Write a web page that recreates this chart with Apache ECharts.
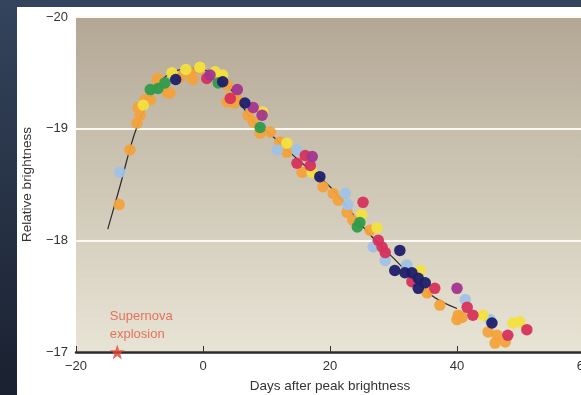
<!DOCTYPE html>
<html>
<head>
<meta charset="utf-8">
<script src="https://cdn.jsdelivr.net/npm/echarts@6/dist/echarts.min.js"></script>
<style>
  html, body { margin: 0; padding: 0; }
  #chart { width: 581px; height: 395px; }
</style>
</head>
<body>
<div id="chart"></div>
<script>
// Light curve of a type Ia supernova: observations (days, magnitude) per survey colour
const orange = [[-13.2,-18.32],[-11.5,-18.81],[-10.4,-19.05],[-10.2,-19.19],[-9.9,-19.12],[-9.1,-19.26],[-8.3,-19.26],[-7.2,-19.44],[-7.1,-19.45],[-5.7,-19.33],[-5.2,-19.32],[-3.6,-19.46],[-2.0,-19.50],[-0.5,-19.54],[-1.6,-19.44],[2.7,-19.46],[3.8,-19.39],[3.8,-19.24],[5.4,-19.26],[4.3,-19.28],[5.0,-19.23],[7.1,-19.12],[7.9,-19.06],[9.0,-18.96],[10.6,-18.97],[12.1,-18.88],[13.2,-18.79],[15.6,-18.61],[18.9,-18.48],[20.5,-18.42],[21.3,-18.36],[22.7,-18.25],[23.6,-18.18],[26.3,-18.09],[35.3,-17.53],[37.3,-17.42],[40.2,-17.33],[40.8,-17.31],[40.0,-17.29],[44.9,-17.18],[46.3,-17.15],[46.0,-17.08],[47.6,-17.09]];
const yellow = [[-9.4,-19.21],[-4.9,-19.50],[-2.7,-19.53],[-0.5,-19.55],[1.9,-19.51],[3.1,-19.48],[9.4,-19.15],[13.2,-18.87],[17.2,-18.61],[25.0,-18.23],[27.4,-18.11],[34.2,-17.73],[44.1,-17.33],[48.8,-17.26],[49.9,-17.27]];
const green = [[-8.3,-19.35],[-7.1,-19.36],[-6.0,-19.41],[2.4,-19.41],[9.0,-19.01],[24.7,-18.16],[24.3,-18.12]];
const navy = [[-4.3,-19.44],[3.1,-19.42],[6.6,-19.23],[18.4,-18.57],[31.0,-17.91],[30.2,-17.73],[31.8,-17.71],[32.9,-17.71],[33.9,-17.66],[35.0,-17.62],[33.9,-17.57],[45.5,-17.26]];
const crimson = [[0.6,-19.45],[4.3,-19.27],[16.1,-18.76],[14.8,-18.69],[16.9,-18.67],[25.2,-18.34],[27.6,-18.00],[28.2,-17.94],[28.7,-17.89],[32.9,-17.63],[36.5,-17.57],[41.6,-17.40],[42.5,-17.33],[48.0,-17.15],[51.0,-17.20]];
const magenta = [[1.1,-19.48],[5.4,-19.35],[7.9,-19.19],[9.3,-19.12],[17.2,-18.75],[40.0,-17.57]];
const lightBlue = [[-13.1,-18.61],[11.7,-18.81],[14.8,-18.81],[22.4,-18.42],[22.8,-18.32],[26.8,-17.94],[28.7,-17.82],[32.1,-17.78],[41.3,-17.47],[45.2,-17.29]];

// Fitted template curve
const curveX = [-15, -13, -11.5, -10.5, -9, -7, -5, -2, 0, 2, 4, 6, 8, 11, 15, 20, 26, 30, 35.7, 40];
const curveY = [-18.1, -18.5, -18.82, -19.0, -19.2, -19.4, -19.5, -19.54, -19.53, -19.48, -19.38, -19.22, -19.06, -18.93, -18.72, -18.48, -18.07, -17.84, -17.52, -17.39];

// Explosion marker
const explosion = [[-13.5, -17]];
const explosionLabel = 'Supernova\nexplosion';

// Axis ticks
const xTicks = [-20, 0, 20, 40, 60];
const yTicks = [-20, -19, -18, -17];

const seriesColors = {
  orange: '#f3a23c', yellow: '#f2e13f', green: '#2f9b4b', navy: '#1d1f6a',
  crimson: '#d6325c', magenta: '#a3358e', lightBlue: '#a0c2e6'
};

const font = '"Liberation Sans", Arial, Helvetica, sans-serif';
const minus = v => String(v).replace('-', '\u2212');

const chart = echarts.init(document.getElementById('chart'), null, { renderer: 'canvas' });

function dots(name, data, color) {
  return {
    name, type: 'scatter', data, symbol: 'circle', symbolSize: 11.5, z: 4,
    itemStyle: { color, opacity: 0.95 }, silent: true
  };
}

chart.setOption({
  animation: false,
  backgroundColor: new echarts.graphic.LinearGradient(0, 0, 0, 1, [
    { offset: 0, color: '#34445c' }, { offset: 1, color: '#1a2130' }
  ]),
  graphic: [{
    type: 'rect', z: -10, silent: true,
    shape: { x: 17, y: 7, width: 600, height: 400 },
    style: { fill: '#ffffff' }
  }],
  grid: {
    left: 76, top: 17, right: -3, bottom: 43, show: true, borderWidth: 0,
    outerBoundsMode: 'none', containLabel: false,
    backgroundColor: new echarts.graphic.LinearGradient(0, 0, 0, 1, [
      { offset: 0, color: '#b3a695' }, { offset: 0.33, color: '#c6bdab' },
      { offset: 0.66, color: '#d6d0c0' }, { offset: 1, color: '#e8e4d5' }
    ])
  },
  xAxis: {
    type: 'value', min: xTicks[0], max: xTicks[xTicks.length - 1], interval: 20,
    name: 'Days after peak brightness', nameLocation: 'middle', nameGap: 27,
    nameTextStyle: { color: '#333', fontSize: 13.5, fontFamily: font },
    axisLine: { show: true, onZero: false, lineStyle: { color: '#2a2a2a', width: 2.5 } },
    axisTick: { show: true, inside: true, length: 6, lineStyle: { color: '#333', width: 1 } },
    axisLabel: { color: '#333', fontSize: 13, fontFamily: font, margin: 8, formatter: minus },
    splitLine: { show: false }
  },
  yAxis: {
    type: 'value', min: yTicks[0], max: yTicks[yTicks.length - 1], interval: 1, inverse: true,
    name: 'Relative brightness', nameLocation: 'middle', nameGap: 42, nameRotate: 90,
    nameTextStyle: { color: '#333', fontSize: 13.5, fontFamily: font },
    axisLine: { show: false }, axisTick: { show: false },
    axisLabel: { color: '#333', fontSize: 13, fontFamily: font, margin: 8, formatter: minus },
    splitLine: { show: true, lineStyle: { color: '#fbf9f2', width: 2 } }
  },
  series: [
    {
      name: 'template', type: 'line', smooth: 0.4, symbol: 'none', z: 3, silent: true,
      data: curveX.map((x, i) => [x, curveY[i]]),
      lineStyle: { color: '#2a2a2a', width: 1.2 }
    },
    dots('orange', orange, seriesColors.orange),
    dots('lightBlue', lightBlue, seriesColors.lightBlue),
    dots('yellow', yellow, seriesColors.yellow),
    dots('green', green, seriesColors.green),
    dots('crimson', crimson, seriesColors.crimson),
    dots('magenta', magenta, seriesColors.magenta),
    dots('navy', navy, seriesColors.navy),
    {
      name: 'explosion', type: 'scatter', data: explosion, z: 6, silent: true,
      symbol: 'path://M50,0 L61.8,35.1 L98.1,35.1 L68.8,56.8 L79.4,91.3 L50,70.6 L20.6,91.3 L31.2,56.8 L1.9,35.1 L38.2,35.1 Z',
      symbolSize: 15,
      itemStyle: { color: '#e2432f' },
      label: {
        show: true, formatter: explosionLabel, position: [0, -37], align: 'left',
        color: '#e2573c', fontSize: 13, lineHeight: 18, fontFamily: font
      }
    }
  ]
});
</script>
</body>
</html>
